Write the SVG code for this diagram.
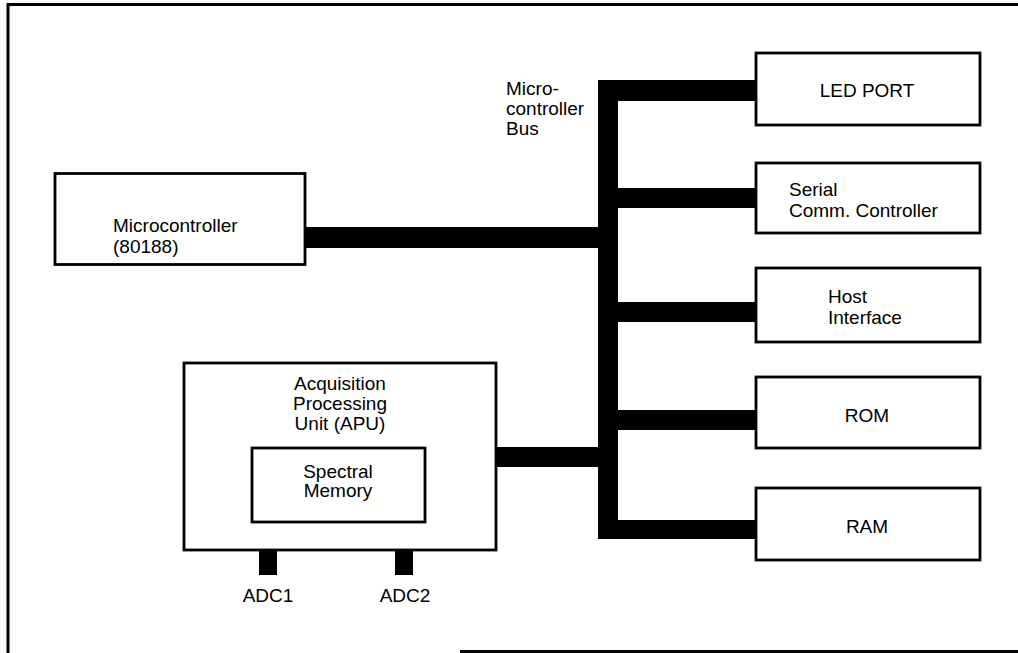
<svg xmlns="http://www.w3.org/2000/svg" width="1018" height="653" viewBox="0 0 1018 653">
<style>
.box{fill:#fff;stroke:#000;stroke-width:2.8}
.bus{fill:#000}
text{font-family:"Liberation Sans",Arial,sans-serif;font-size:19px;fill:#000}
.c{text-anchor:middle}
</style>
<rect x="0" y="0" width="1018" height="653" fill="#fff"/>
<g id="frame">
<line x1="7" y1="4.5" x2="1018" y2="4.5" stroke="#000" stroke-width="3"/>
<line x1="8" y1="3" x2="8" y2="653" stroke="#000" stroke-width="3"/>
<line x1="460" y1="651.5" x2="1018" y2="651.5" stroke="#000" stroke-width="3"/>
</g>
<g id="connectors">
<rect class="bus" x="598" y="80" width="20" height="459"/>
<rect class="bus" x="598" y="80" width="158" height="21"/>
<rect class="bus" x="598" y="188" width="158" height="20"/>
<rect class="bus" x="305" y="227" width="313" height="21"/>
<rect class="bus" x="598" y="302" width="158" height="20"/>
<rect class="bus" x="598" y="410" width="158" height="20"/>
<rect class="bus" x="598" y="520" width="158" height="19"/>
<rect class="bus" x="496" y="447" width="122" height="20"/>
<rect class="bus" x="259" y="550" width="18" height="25"/>
<rect class="bus" x="395" y="550" width="18" height="25"/>
</g>
<g id="bus-label">
<text x="506" y="95">Micro-</text>
<text x="506" y="115">controller</text>
<text x="506" y="135">Bus</text>
</g>
<g id="microcontroller">
<rect class="box" x="55" y="173.5" width="250" height="91"/>
<text x="113" y="232">Microcontroller</text>
<text x="113" y="253">(80188)</text>
</g>
<g id="apu">
<rect class="box" x="184" y="363" width="312" height="187"/>
<text class="c" x="340" y="390">Acquisition</text>
<text class="c" x="340" y="410">Processing</text>
<text class="c" x="340" y="430">Unit (APU)</text>
</g>
<g id="spectral-memory">
<rect class="box" x="252" y="448" width="173" height="74"/>
<text class="c" x="338" y="478">Spectral</text>
<text class="c" x="338" y="497">Memory</text>
</g>
<g id="adc1"><text class="c" x="268" y="602">ADC1</text></g>
<g id="adc2"><text class="c" x="405" y="602">ADC2</text></g>
<g id="led-port">
<rect class="box" x="756" y="53" width="224" height="72"/>
<text class="c" x="867" y="97">LED PORT</text>
</g>
<g id="serial">
<rect class="box" x="756" y="163" width="224" height="70"/>
<text x="789" y="196">Serial</text>
<text x="789" y="217">Comm. Controller</text>
</g>
<g id="host">
<rect class="box" x="756" y="268" width="224" height="74"/>
<text x="828" y="303">Host</text>
<text x="828" y="324">Interface</text>
</g>
<g id="rom">
<rect class="box" x="756" y="377" width="224" height="71"/>
<text class="c" x="867" y="422">ROM</text>
</g>
<g id="ram">
<rect class="box" x="756" y="488" width="224" height="72"/>
<text class="c" x="867" y="533">RAM</text>
</g>
</svg>
